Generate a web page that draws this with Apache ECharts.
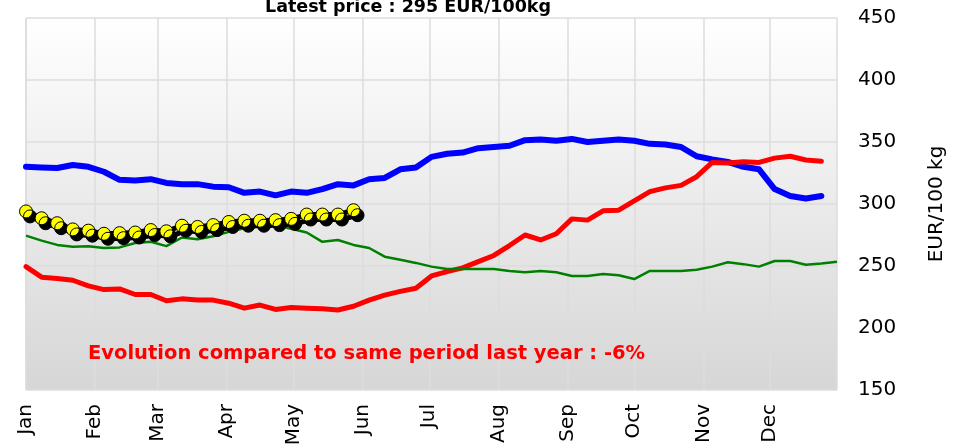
<!DOCTYPE html>
<html>
<head>
<meta charset="utf-8">
<script src="https://cdn.jsdelivr.net/npm/echarts@6/dist/echarts.min.js"></script>
<style>
  html, body { margin: 0; padding: 0; background: #fff; }
  #chart { width: 966px; height: 447px; }
</style>
</head>
<body>
<div id="chart"></div>
<script>
var chart = echarts.init(document.getElementById('chart'));

// month tick labels
var months = ['Jan', 'Feb', 'Mar', 'Apr', 'May', 'Jun', 'Jul', 'Aug', 'Sep', 'Oct', 'Nov', 'Dec'];

// weekly prices, EUR/100 kg (week 1 = first week of January)
var blueYear = [330, 329.5, 329, 331.5, 330, 326, 319.5, 319, 320, 317, 316, 316, 314, 313.5, 309, 310,
    307, 310, 309, 312, 316, 315, 320, 321, 328, 329.5, 338, 340.5, 341.5, 345, 346, 347,
    351.5, 352, 351, 352.5, 350, 351, 352, 351, 348.5, 348, 346, 338.5, 336, 334,
    330, 328, 312, 306.5, 304.5, 306.5];
var redYear = [249.5, 241, 240, 238.5, 234, 231, 231.5, 227, 227, 222, 223.5, 222.5, 222.5, 220, 216, 218.5,
    215, 216.5, 216, 215.5, 214.5, 217.5, 222.5, 226.5, 229.5, 232, 242, 245.5, 248.5, 253.5, 258.5, 266.5,
    275, 271, 276, 288, 287, 294.5, 295, 302.5, 310, 313, 315, 322, 333.5, 333, 334,
    333.5, 337, 338.5, 335.5, 334.5];
var greenYear = [274.5, 270.5, 267, 265.5, 266, 264.5, 265, 268.5, 269.5, 266, 273, 271.5, 274, 277.5, 280.5, 282,
    283, 280, 277, 269.5, 271, 267, 264.5, 257.5, 255, 252.5, 249.5, 247.5, 247.5, 247.5, 247.5, 246,
    245, 246, 245, 242, 242, 243.5, 242.5, 239.5, 246, 246, 246, 247, 249.5, 253,
    251.5, 249.5, 254, 254, 251, 252, 253.5];
var currentYear = [294, 288.5, 284.5, 279.5, 278.5, 276, 276.5, 277, 279, 278, 282.5, 281.5, 283, 285.5, 286.5, 286.5,
    287, 288, 291.5, 291.5, 291.5, 295];

var latestPrice = 295;
var evolution = -6;

function weekly(values) {
    return values.map(function (v, i) {
        return [new Date(2023, 0, 1 + 7 * i).getTime(), v];
    });
}

var option = {
    animation: false,
    backgroundColor: '#fff',
    title: {
        text: 'Latest price : ' + latestPrice + ' EUR/100kg',
        left: 265,
        top: -2,
        padding: 0,
        textStyle: {
            fontFamily: 'DejaVu Sans',
            fontWeight: 'bold',
            fontSize: 17.5,
            color: '#000'
        }
    },
    grid: {
        left: 26,
        right: 129,
        top: 18,
        bottom: 57,
        show: true,
        borderWidth: 0,
        outerBoundsMode: 'none',
        backgroundColor: {
            type: 'linear', x: 0, y: 0, x2: 0, y2: 1,
            colorStops: [
                { offset: 0, color: '#ffffff' },
                { offset: 1, color: '#d6d6d6' }
            ]
        }
    },
    xAxis: {
        type: 'time',
        min: new Date(2023, 0, 1).getTime(),
        max: new Date(2023, 11, 31).getTime(),
        splitNumber: 12,
        minInterval: 28 * 86400000,
        maxInterval: 31 * 86400000,
        axisLine: { show: false },
        axisTick: { show: false },
        axisLabel: {
            rotate: 90,
            margin: 14,
            fontSize: 20,
            fontFamily: 'DejaVu Sans',
            color: '#000',
            hideOverlap: false,
            showMinLabel: true,
            formatter: function (v) {
                var d = new Date(v);
                return d.getDate() === 1 ? months[d.getMonth()] : '';
            }
        },
        splitLine: { show: true, lineStyle: { color: '#dcdcdc', width: 1.5 } }
    },
    yAxis: {
        type: 'value',
        position: 'right',
        min: 150,
        max: 450,
        interval: 50,
        name: 'EUR/100 kg',
        nameLocation: 'middle',
        nameRotate: 90,
        nameGap: 90,
        nameTextStyle: { fontSize: 20, fontFamily: 'DejaVu Sans', color: '#000' },
        axisLine: { show: false },
        axisTick: { show: false },
        axisLabel: { margin: 21, fontSize: 20, fontFamily: 'DejaVu Sans', color: '#000' },
        splitLine: { lineStyle: { color: '#dcdcdc', width: 1.5 } }
    },
    graphic: [{
        type: 'text',
        left: 88,
        top: 344,
        z: 100,
        style: {
            text: 'Evolution compared to same period last year : ' + evolution + '%',
            fill: '#ff0000',
            font: 'bold 19.5px "DejaVu Sans"'
        }
    }],
    series: [
        {
            type: 'line',
            data: weekly(blueYear),
            showSymbol: false,
            lineStyle: { color: '#0000ff', width: 6, join: 'round', cap: 'round' },
            itemStyle: { color: '#0000ff' }
        },
        {
            type: 'line',
            data: weekly(redYear),
            showSymbol: false,
            lineStyle: { color: '#ff0000', width: 5, join: 'round', cap: 'round' },
            itemStyle: { color: '#ff0000' }
        },
        {
            type: 'line',
            data: weekly(greenYear),
            showSymbol: false,
            lineStyle: { color: '#008000', width: 2.5 },
            itemStyle: { color: '#008000' }
        },
        {
            type: 'line',
            data: weekly(currentYear),
            symbol: 'circle',
            symbolSize: 13,
            lineStyle: {
                color: '#000', width: 5,
                shadowColor: '#000', shadowOffsetX: 4, shadowOffsetY: 5, shadowBlur: 0
            },
            itemStyle: {
                color: '#ffff00',
                borderColor: '#000',
                borderWidth: 1,
                shadowColor: '#000',
                shadowOffsetX: 4,
                shadowOffsetY: 5,
                shadowBlur: 0
            },
            z: 5
        }
    ]
};

chart.setOption(option);
</script>
</body>
</html>
